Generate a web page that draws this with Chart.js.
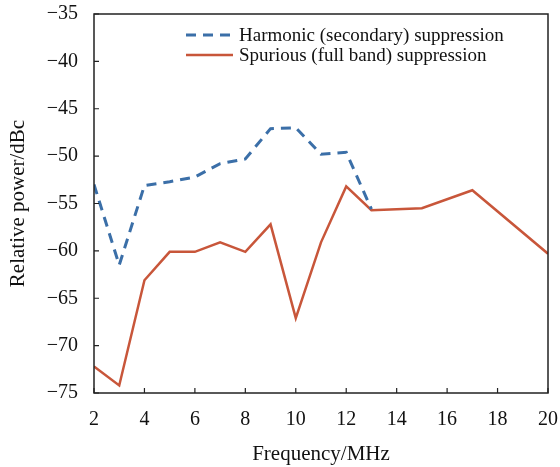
<!DOCTYPE html>
<html lang="en">
<head>
    <meta charset="UTF-8">
    <title>Suppression vs frequency</title>
    <script src="https://cdn.jsdelivr.net/npm/chart.js"></script>
    <style>
        html, body { margin: 0; padding: 0; background: #ffffff; }
        #wrap { width: 560px; height: 467px; }
    </style>
</head>
<body>
<div id="wrap"><canvas id="chart" width="560" height="467"></canvas></div>
<script>
    // chart data
    const harmonicFreq = [2, 3, 4, 5, 6, 7, 8, 9, 10, 11, 12, 13];
    const harmonicPower = [-53.0, -61.5, -53.1, -52.7, -52.2, -50.8, -50.3, -47.1, -47.0, -49.8, -49.6, -55.6];
    const spuriousFreq = [2, 3, 4, 5, 6, 7, 8, 9, 10, 11, 12, 13, 15, 17, 20];
    const spuriousPower = [-72.2, -74.2, -63.1, -60.1, -60.1, -59.1, -60.1, -57.2, -67.1, -59.1, -53.2, -55.7, -55.5, -53.6, -60.3];
    const xTicks = [2, 4, 6, 8, 10, 12, 14, 16, 18, 20];
    const yTicks = [-75, -70, -65, -60, -55, -50, -45, -40, -35];
    const seriesNames = ['Harmonic (secondary) suppression', 'Spurious (full band) suppression'];

    const FONT = '"Liberation Serif", "Times New Roman", serif';

    function toPoints(xs, ys) {
        return xs.map((x, i) => ({ x: x, y: ys[i] }));
    }

    // frame, inward ticks and legend
    const framePlugin = {
        id: 'frame',
        afterDraw(chart) {
            const ctx = chart.ctx;
            const a = chart.chartArea;
            const xs = chart.scales.x, ys = chart.scales.y;
            ctx.save();
            ctx.strokeStyle = '#222';
            ctx.lineWidth = 1.5;
            ctx.strokeRect(a.left, a.top, a.right - a.left, a.bottom - a.top);
            ctx.lineWidth = 1.2;
            ctx.beginPath();
            xTicks.forEach(v => {
                const px = xs.getPixelForValue(v);
                ctx.moveTo(px, a.bottom);
                ctx.lineTo(px, a.bottom - 5);
            });
            yTicks.forEach(v => {
                const py = ys.getPixelForValue(v);
                ctx.moveTo(a.left, py);
                ctx.lineTo(a.left + 5, py);
            });
            ctx.stroke();

            // legend
            ctx.font = '19px ' + FONT;
            ctx.fillStyle = '#111';
            ctx.textBaseline = 'middle';
            chart.data.datasets.forEach((ds, i) => {
                const y = 35 + i * 20;
                ctx.strokeStyle = ds.borderColor;
                ctx.lineWidth = ds.borderWidth;
                ctx.setLineDash(ds.borderDash || []);
                ctx.beginPath();
                ctx.moveTo(186, y);
                ctx.lineTo(233, y);
                ctx.stroke();
                ctx.setLineDash([]);
                ctx.fillText(ds.label, 239, y + 1);
            });
            ctx.restore();
        }
    };

    new Chart(document.getElementById('chart'), {
        type: 'line',
        data: {
            datasets: [
                {
                    label: seriesNames[0],
                    data: toPoints(harmonicFreq, harmonicPower),
                    borderColor: '#3b6fa8',
                    borderWidth: 3,
                    borderDash: [10, 7],
                    pointRadius: 0,
                    tension: 0,
                    fill: false
                },
                {
                    label: seriesNames[1],
                    data: toPoints(spuriousFreq, spuriousPower),
                    borderColor: '#c8563a',
                    borderWidth: 2.5,
                    pointRadius: 0,
                    tension: 0,
                    fill: false
                }
            ]
        },
        options: {
            responsive: false,
            animation: false,
            layout: { padding: { left: 0, right: 12, top: 14, bottom: 0 } },
            plugins: {
                legend: { display: false },
                tooltip: { enabled: false }
            },
            scales: {
                x: {
                    type: 'linear',
                    min: 2,
                    max: 20,
                    afterBuildTicks(scale) { scale.ticks = xTicks.map(v => ({ value: v })); },
                    afterFit(scale) {
                        scale.height = 74;
                        scale.paddingLeft = 0;
                        scale.paddingRight = 0;
                    },
                    grid: { display: false },
                    border: { display: false },
                    ticks: {
                        color: '#111',
                        padding: 7,
                        maxRotation: 0,
                        font: { family: FONT, size: 20 }
                    },
                    title: {
                        display: true,
                        text: 'Frequency/MHz',
                        color: '#111',
                        padding: { top: 0, bottom: 0 },
                        font: { family: FONT, size: 21 }
                    }
                },
                y: {
                    min: -75,
                    max: -35,
                    afterBuildTicks(scale) { scale.ticks = yTicks.map(v => ({ value: v })); },
                    afterFit(scale) {
                        scale.width = 94;
                        scale.paddingTop = 0;
                        scale.paddingBottom = 0;
                    },
                    grid: { display: false },
                    border: { display: false },
                    ticks: {
                        color: '#111',
                        padding: 8,
                        font: { family: FONT, size: 20 },
                        callback: v => String(v).replace('-', '\u2212')
                    },
                    title: {
                        display: true,
                        text: 'Relative power/dBc',
                        color: '#111',
                        padding: { top: 6, bottom: 0 },
                        font: { family: FONT, size: 21 }
                    }
                }
            }
        },
        plugins: [framePlugin]
    });
</script>
</body>
</html>
